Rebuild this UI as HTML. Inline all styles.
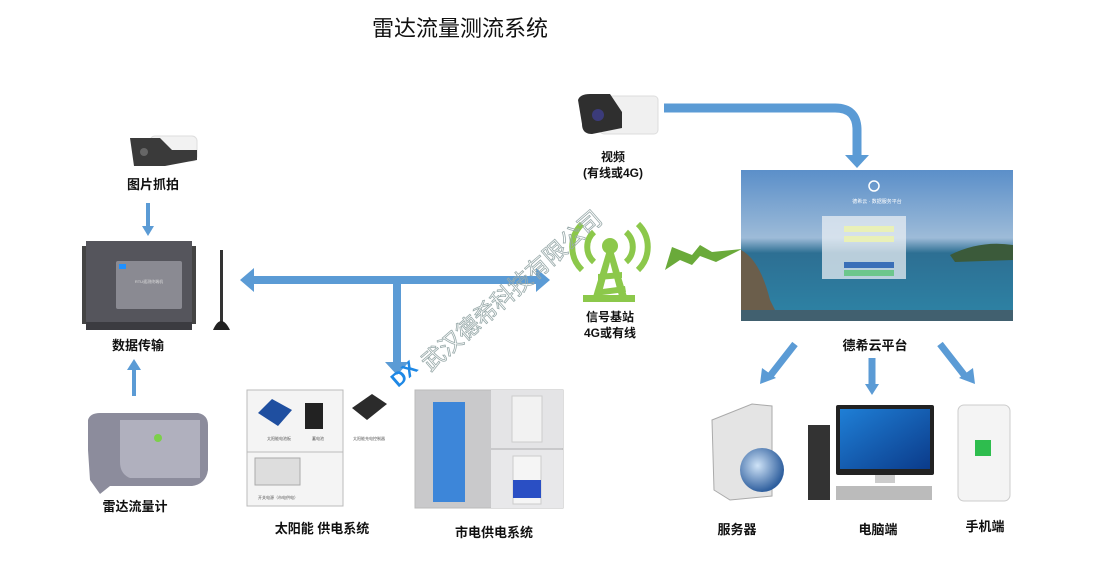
<!DOCTYPE html>
<html><head><meta charset="utf-8"><style>
html,body{margin:0;padding:0;background:#fff;}
svg text{font-family:"Liberation Sans","Noto Sans CJK SC",sans-serif;}
</style></head><body>
<svg width="1104" height="577" viewBox="0 0 1104 577" xmlns="http://www.w3.org/2000/svg">
<defs>
<linearGradient id="sky" x1="0" y1="0" x2="0" y2="1">
<stop offset="0" stop-color="#5b8fc9"/><stop offset="0.45" stop-color="#9dbbd8"/><stop offset="0.55" stop-color="#2d6f93"/><stop offset="1" stop-color="#2d84a6"/></linearGradient>
<linearGradient id="scr" x1="0" y1="0" x2="1" y2="1"><stop offset="0" stop-color="#1f7fd6"/><stop offset="1" stop-color="#0b3b8a"/></linearGradient>
<radialGradient id="globe" cx="0.4" cy="0.4" r="0.6"><stop offset="0" stop-color="#cfe3f7"/><stop offset="1" stop-color="#2f5f9e"/></radialGradient>
</defs>
<!-- title -->
<text x="460" y="36" font-size="22" text-anchor="middle" fill="#111">雷达流量测流系统</text>

<!-- left camera -->
<g>
<rect x="150" y="136" width="47" height="25" rx="5" fill="#f2f2f2" stroke="#ddd"/>
<path d="M130 138 L160 138 L172 150 L197 150 L197 160 L165 166 L134 166 Z" fill="#3a3a3a"/>
<circle cx="144" cy="152" r="4" fill="#666"/>
</g>
<text x="153" y="189" font-size="13" font-weight="bold" text-anchor="middle" fill="#111">图片抓拍</text>
<rect x="146" y="203" width="4" height="24" fill="#5b9bd5"/>
<path d="M142 226 L154 226 L148 236 Z" fill="#5b9bd5"/>

<!-- RTU -->
<rect x="82" y="246" width="5" height="78" fill="#444"/>
<rect x="191" y="246" width="5" height="78" fill="#444"/>
<rect x="86" y="241" width="106" height="89" fill="#55555c"/>
<rect x="116" y="261" width="66" height="48" rx="2" fill="#8a8a92"/>
<rect x="119" y="264" width="7" height="5" fill="#1e90ff"/>
<text x="149" y="283" font-size="4" text-anchor="middle" fill="#ddd">RTU遥测终端机</text>
<rect x="86" y="322" width="106" height="8" fill="#3b3b40"/>
<rect x="220" y="250" width="3" height="72" fill="#333"/>
<path d="M213 330 Q221 312 230 330 Z" fill="#222"/>
<text x="138" y="350" font-size="13" font-weight="bold" text-anchor="middle" fill="#111">数据传输</text>
<rect x="132" y="368" width="4" height="28" fill="#5b9bd5"/>
<path d="M127 370 L141 370 L134 359 Z" fill="#5b9bd5"/>

<!-- radar -->
<path d="M88 420 Q90 413 100 413 L198 413 Q208 415 208 425 L208 470 Q206 484 192 486 L110 486 L100 494 L90 480 L88 450 Z" fill="#8c8c9c"/>
<path d="M120 420 L200 420 L200 478 L130 478 Q120 474 120 462 Z" fill="#b0b0be"/>
<circle cx="158" cy="438" r="4" fill="#7cd04a"/>
<text x="135" y="511" font-size="13" font-weight="bold" text-anchor="middle" fill="#111">雷达流量计</text>

<!-- horizontal double arrow -->
<rect x="252" y="276" width="284" height="8" fill="#5b9bd5"/>
<path d="M240 280 L254 268 L254 292 Z" fill="#5b9bd5"/>
<path d="M550 280 L536 268 L536 292 Z" fill="#5b9bd5"/>
<rect x="393" y="280" width="8" height="84" fill="#5b9bd5"/>
<path d="M385 362 L409 362 L397 375 Z" fill="#5b9bd5"/>

<!-- solar box -->
<rect x="247" y="390" width="96" height="116" fill="#f4f4f4" stroke="#bbb"/>
<line x1="247" y1="452" x2="343" y2="452" stroke="#bbb"/>
<path d="M258 413 L272 399 L292 410 L278 426 Z" fill="#1f4fa0"/>
<rect x="305" y="403" width="18" height="26" fill="#222"/>
<path d="M352 408 L372 394 L387 404 L367 420 Z" fill="#2b2b2b"/>
<text x="267" y="440" font-size="4" fill="#555">太阳能电池板</text>
<text x="312" y="440" font-size="4" fill="#555">蓄电池</text>
<text x="353" y="440" font-size="4" fill="#555">太阳能充电控制器</text>
<rect x="255" y="458" width="45" height="27" fill="#ddd" stroke="#aaa"/>
<text x="258" y="499" font-size="4" fill="#555">开关电源（市电供电）</text>
<text x="322" y="533" font-size="13" font-weight="bold" text-anchor="middle" fill="#111">太阳能 供电系统</text>

<!-- mains box -->
<rect x="415" y="390" width="148" height="118" fill="#c9c9cb" stroke="#bbb"/>
<rect x="491" y="390" width="72" height="58" fill="#e4e4e6"/>
<rect x="491" y="450" width="72" height="58" fill="#e8e8ea"/>
<rect x="433" y="402" width="32" height="100" fill="#3d86d9"/>
<rect x="512" y="396" width="30" height="46" fill="#f2f2f2" stroke="#ccc"/>
<rect x="513" y="456" width="28" height="48" fill="#f5f5f5" stroke="#ccc"/>
<rect x="513" y="480" width="28" height="18" fill="#2a4fc4"/>
<text x="494" y="537" font-size="13" font-weight="bold" text-anchor="middle" fill="#111">市电供电系统</text>

<!-- video camera -->
<rect x="600" y="96" width="58" height="38" rx="4" fill="#f0f0f0" stroke="#ddd"/>
<path d="M578 100 Q580 94 590 94 L610 94 L622 112 L622 128 L592 134 Q582 134 582 124 Z" fill="#2f2f2f"/>
<circle cx="598" cy="115" r="6" fill="#3b3b7a"/>
<text x="613" y="161" font-size="12" font-weight="bold" text-anchor="middle" fill="#111">视频</text>
<text x="613" y="177" font-size="12" font-weight="bold" text-anchor="middle" fill="#111">(有线或4G)</text>
<path d="M664 108 L835 108 Q857 108 857 130 L857 156" fill="none" stroke="#5b9bd5" stroke-width="9"/>
<path d="M845 155 L869 155 L857 168 Z" fill="#5b9bd5"/>

<!-- tower -->
<g fill="#8cc84b">
<path d="M592 300 L610 240 L628 300 L620 300 L610 262 L600 300 Z"/>
<circle cx="610" cy="246" r="8"/>
<path d="M598 274 L622 272 L622 278 L598 280 Z"/>
<path d="M595 290 L625 286 L626 292 L594 296 Z"/>
<rect x="583" y="295" width="52" height="7"/>
</g>
<g fill="none" stroke="#8cc84b" stroke-width="6">
<path d="M594 232 A20 20 0 0 0 594 262"/>
<path d="M626 232 A20 20 0 0 1 626 262"/>
<path d="M582 224 A32 32 0 0 0 582 270"/>
<path d="M638 224 A32 32 0 0 1 638 270"/>
</g>
<text x="610" y="321" font-size="12" font-weight="bold" text-anchor="middle" fill="#111">信号基站</text>
<text x="610" y="337" font-size="12" font-weight="bold" text-anchor="middle" fill="#111">4G或有线</text>
<path d="M665 270 L672 247 L692 255 L700 245 L712 252 L742 249 L716 262 L700 256 L692 265 L680 260 Z" fill="#6aaa3a"/>

<!-- platform -->
<rect x="741" y="170" width="272" height="151" fill="url(#sky)"/>
<path d="M741 250 Q760 260 770 300 L775 310 L741 310 Z" fill="#6b5e4b"/>
<path d="M950 255 Q980 240 1013 245 L1013 260 L955 262 Z" fill="#3b5a3a"/>
<rect x="741" y="310" width="272" height="11" fill="#41606f"/>
<rect x="822" y="216" width="84" height="63" fill="#e8eef3" opacity="0.75"/>
<rect x="844" y="226" width="50" height="6" fill="#e9f0b8"/>
<rect x="844" y="236" width="50" height="6" fill="#e9f0b8"/>
<rect x="844" y="262" width="50" height="6" fill="#3a6fb8"/>
<rect x="844" y="270" width="50" height="6" fill="#6cc68c"/>
<circle cx="874" cy="186" r="5" fill="none" stroke="#fff" stroke-width="1.5"/>
<text x="877" y="203" font-size="5" text-anchor="middle" fill="#fff">德希云 · 数据服务平台</text>
<text x="875" y="350" font-size="13" font-weight="bold" text-anchor="middle" fill="#111">德希云平台</text>
<g stroke="#5b9bd5" stroke-width="7">
<line x1="795" y1="344" x2="770" y2="376"/>
<line x1="872" y1="358" x2="872" y2="386"/>
<line x1="940" y1="344" x2="965" y2="376"/>
</g>
<path d="M760 384 L762 368 L776 378 Z" fill="#5b9bd5"/>
<path d="M865 384 L879 384 L872 395 Z" fill="#5b9bd5"/>
<path d="M975 384 L973 368 L959 378 Z" fill="#5b9bd5"/>

<!-- server -->
<path d="M712 420 L752 404 L772 406 L772 496 L730 500 L714 490 Z" fill="#e4e4e4" stroke="#aaa"/>
<circle cx="762" cy="470" r="22" fill="url(#globe)"/>
<text x="737" y="534" font-size="13" font-weight="bold" text-anchor="middle" fill="#111">服务器</text>
<!-- computer -->
<rect x="808" y="425" width="22" height="75" fill="#333"/>
<rect x="836" y="405" width="98" height="70" rx="2" fill="#222"/>
<rect x="840" y="409" width="90" height="60" fill="url(#scr)"/>
<rect x="875" y="475" width="20" height="8" fill="#ccc"/>
<rect x="836" y="486" width="96" height="14" fill="#bbb"/>
<text x="878" y="534" font-size="13" font-weight="bold" text-anchor="middle" fill="#111">电脑端</text>
<!-- phone -->
<rect x="958" y="405" width="52" height="96" rx="6" fill="#f4f4f4" stroke="#ccc"/>
<rect x="975" y="440" width="16" height="16" fill="#2ebd4e"/>
<text x="985" y="531" font-size="13" font-weight="bold" text-anchor="middle" fill="#111">手机端</text>

<!-- watermark -->
<text x="0" y="0" font-size="23" fill="none" stroke="#9aa" stroke-width="0.8" transform="translate(430,372) rotate(-41)">武汉德希科技有限公司</text>
<text x="0" y="0" font-size="20" font-weight="bold" fill="#1e88e5" transform="translate(398,388) rotate(-41)">DX</text>
</svg>
</body></html>
